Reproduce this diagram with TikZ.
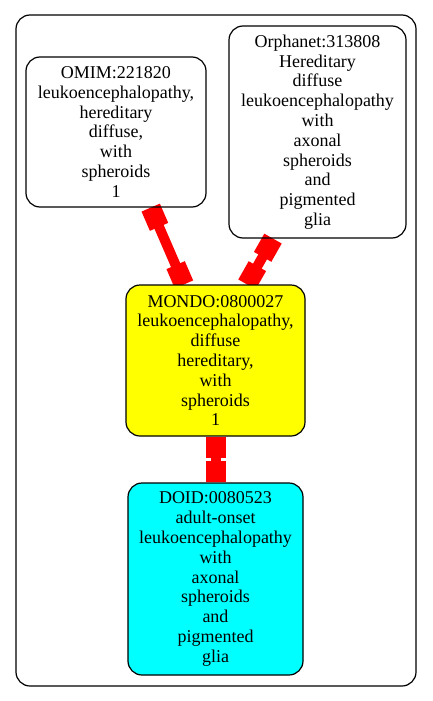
\documentclass[tikz,border=0pt]{standalone}
\usepackage{fontspec}
\setmainfont{Liberation Serif}
\newfontfamily\timesfont{Liberation Serif}
\usetikzlibrary{arrows.meta,backgrounds}
\definecolor{nodeyellow}{RGB}{255,255,0}
\definecolor{nodecyan}{RGB}{0,255,255}
\definecolor{edgered}{RGB}{255,0,0}
\tikzset{
  termbox/.style={draw=black, line width=1.2pt, rounded corners=14pt, align=center,
    inner sep=0pt, font=\timesfont\fontsize{18}{19.8}\selectfont},
  linkedge/.style={draw=edgered, line width=10pt,
    {Rectangle[length=21pt 0 0,width=20pt 0 0]}-{Rectangle[length=21pt 0 0,width=20pt 0 0]}},
}
\begin{document}
\begin{tikzpicture}[x=1pt,y=-1pt]
\useasboundingbox (0,0) rectangle (432,701);
\draw[line width=1.2pt, rounded corners=14pt] (16,15) rectangle (416,686);
\node[termbox, minimum width=180pt, minimum height=150pt] (omim) at (116,132)
  {OMIM:221820\\leukoencephalopathy,\\hereditary\\diffuse,\\with\\spheroids\\1};
\node[termbox, minimum width=177pt, minimum height=212pt] (orpha) at (317.5,132)
  {Orphanet:313808\\Hereditary\\diffuse\\leukoencephalopathy\\with\\axonal\\spheroids\\and\\pigmented\\glia};
\node[termbox, fill=nodeyellow, minimum width=179pt, minimum height=151pt] (mondo) at (215.5,360.5)
  {MONDO:0800027\\leukoencephalopathy,\\diffuse\\hereditary,\\with\\spheroids\\1};
\node[termbox, fill=nodecyan, minimum width=175pt, minimum height=192pt] (doid) at (215.5,579)
  {DOID:0080523\\adult-onset\\leukoencephalopathy\\with\\axonal\\spheroids\\and\\pigmented\\glia};
\begin{pgfonlayer}{background}
\draw[linkedge] ([xshift=34.7pt]omim.south) -- ([xshift=-31.5pt]mondo.north);
\draw[linkedge] ([xshift=-44.5pt]orpha.south) -- ([xshift=31.5pt]mondo.north);
\draw[linkedge] (mondo.south) -- (doid.north);
\end{pgfonlayer}
\end{tikzpicture}
\end{document}
